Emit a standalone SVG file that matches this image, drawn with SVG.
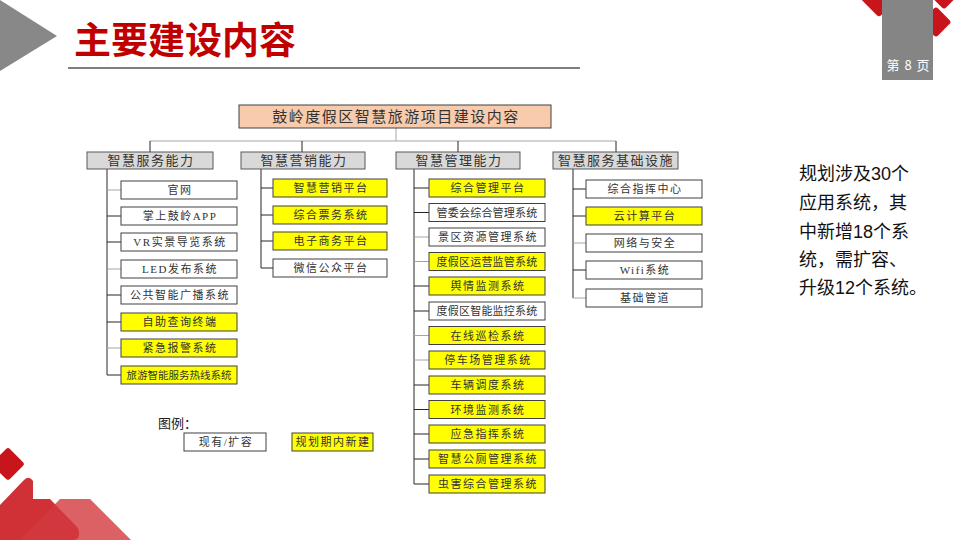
<svg xmlns="http://www.w3.org/2000/svg" width="960" height="540" viewBox="0 0 960 540">
<defs>
<style>
.bx{fill:#ffffff;stroke:#404040;stroke-width:1}
.ny{fill:#ffff00;stroke:#404040;stroke-width:1}
.cat{fill:#d9d9d9;stroke:#595959;stroke-width:1}
.t{font-family:"Liberation Serif","Noto Sans CJK SC",serif;font-size:11px;fill:#333;text-anchor:middle;letter-spacing:1.5px}
.t9{letter-spacing:0.2px}
.t10{font-size:10.5px;letter-spacing:0px}
.ct{font-family:"Liberation Serif","Noto Sans CJK SC",serif;font-size:13px;fill:#333;text-anchor:middle;letter-spacing:1.5px}
.ln{stroke:#262626;stroke-width:1;fill:none}
.lg{stroke:#a6a6a6;stroke-width:1;fill:none}
.rt{font-family:"Liberation Sans","Noto Sans CJK SC",sans-serif;font-size:18px;fill:#111}
</style>
</defs>
<rect width="960" height="540" fill="#ffffff"/>
<!-- header -->
<polygon points="0,0 57,36 0,71" fill="#888888"/>
<text x="74" y="54" font-family="Noto Sans CJK SC,sans-serif" font-size="37" font-weight="bold" fill="#c00000">主要建设内容</text>
<line x1="68" y1="68" x2="580" y2="68" stroke="#7f7f7f" stroke-width="2"/>
<!-- top-right decoration -->
<rect x="866" y="-14" width="26" height="26" rx="3" transform="rotate(45 879 -1)" fill="#c8151b"/>
<rect x="933" y="-17" width="22" height="22" rx="3" transform="rotate(45 944 -6)" fill="#c8151b"/>
<rect x="925" y="11" width="22" height="22" rx="3" transform="rotate(45 936 22)" fill="#c8151b"/>
<rect x="882" y="0" width="51" height="80" fill="#858585"/>
<g font-family="Noto Sans CJK SC,sans-serif" font-size="13" fill="#ffffff" text-anchor="middle">
<text x="893" y="70">第</text><text x="908" y="70">8</text><text x="923" y="70">页</text>
</g>
<!-- bottom-left decoration -->
<rect x="-4" y="452" width="24" height="24" rx="3" transform="rotate(45 8 464)" fill="#c8151b"/>
<path d="M0,505 L24,480 Q29,475 33,481 L33,499 L50,499 L78,528 Q82,540 72,540 L0,540 Z" fill="#c8151b" opacity="0.88"/>
<path d="M60,499 L90,499 L131,540 L20,540 Z" fill="#d2393e" opacity="0.8"/>
<!-- connectors -->
<g id="connectors">
<line class="lg" x1="396" y1="128" x2="396" y2="141"/>
<line class="lg" x1="150" y1="141" x2="616" y2="141"/>
<line class="ln" x1="150" y1="141" x2="150" y2="152"/>
<line class="ln" x1="302" y1="141" x2="302" y2="152"/>
<line class="ln" x1="458" y1="141" x2="458" y2="152"/>
<line class="ln" x1="616" y1="141" x2="616" y2="152"/>
<!-- services -->
<line class="ln" x1="107" y1="169" x2="107" y2="375"/>
<line class="lg" x1="107" y1="190" x2="121" y2="190"/>
<line class="ln" x1="107" y1="216" x2="121" y2="216"/>
<line class="ln" x1="107" y1="242" x2="121" y2="242"/>
<line class="lg" x1="107" y1="269" x2="121" y2="269"/>
<line class="ln" x1="107" y1="295" x2="121" y2="295"/>
<line class="ln" x1="107" y1="322" x2="121" y2="322"/>
<line class="lg" x1="107" y1="348" x2="121" y2="348"/>
<line class="ln" x1="107" y1="375" x2="121" y2="375"/>
<!-- marketing -->
<line class="ln" x1="261" y1="169" x2="261" y2="268"/>
<line class="ln" x1="261" y1="188" x2="273" y2="188"/>
<line class="ln" x1="261" y1="215" x2="273" y2="215"/>
<line class="ln" x1="261" y1="241" x2="273" y2="241"/>
<line class="ln" x1="261" y1="268" x2="273" y2="268"/>
<!-- management -->
<line class="ln" x1="414" y1="169" x2="414" y2="484"/>
<line class="ln" x1="414" y1="188" x2="429" y2="188"/>
<line class="ln" x1="414" y1="212.5" x2="429" y2="212.5"/>
<line class="lg" x1="414" y1="237" x2="429" y2="237"/>
<line class="lg" x1="414" y1="261.5" x2="429" y2="261.5"/>
<line class="ln" x1="414" y1="286" x2="429" y2="286"/>
<line class="ln" x1="414" y1="311" x2="429" y2="311"/>
<line class="lg" x1="414" y1="335.5" x2="429" y2="335.5"/>
<line class="lg" x1="414" y1="360" x2="429" y2="360"/>
<line class="ln" x1="414" y1="385" x2="429" y2="385"/>
<line class="ln" x1="414" y1="409.5" x2="429" y2="409.5"/>
<line class="ln" x1="414" y1="434" x2="429" y2="434"/>
<line class="ln" x1="414" y1="459" x2="429" y2="459"/>
<line class="ln" x1="414" y1="484" x2="429" y2="484"/>
<!-- infra -->
<line class="ln" x1="573" y1="169" x2="573" y2="298"/>
<line class="ln" x1="573" y1="189" x2="586" y2="189"/>
<line class="ln" x1="573" y1="216" x2="586" y2="216"/>
<line class="lg" x1="573" y1="243" x2="586" y2="243"/>
<line class="ln" x1="573" y1="270" x2="586" y2="270"/>
<line class="lg" x1="573" y1="298" x2="586" y2="298"/>
</g>
<!-- root -->
<g id="root">
<rect x="239" y="105" width="312" height="23" fill="#f8cbad" stroke="#404040"/>
<text x="396" y="122" font-family="Liberation Serif,Noto Sans CJK SC,serif" font-size="15" fill="#333" text-anchor="middle" letter-spacing="1.5">鼓岭度假区智慧旅游项目建设内容</text>
</g>
<!-- categories -->
<g id="cat1"><rect class="cat" x="87" y="152" width="126" height="17"/><text class="ct" x="151" y="165">智慧服务能力</text></g>
<g id="cat2"><rect class="cat" x="241" y="152" width="124" height="17"/><text class="ct" x="304" y="165">智慧营销能力</text></g>
<g id="cat3"><rect class="cat" x="396" y="152" width="124" height="17"/><text class="ct" x="459" y="165">智慧管理能力</text></g>
<g id="cat4"><rect class="cat" x="553" y="152" width="125" height="17"/><text class="ct" x="616" y="165" letter-spacing="0.5">智慧服务基础设施</text></g>
<!-- services children -->
<g id="s1"><rect class="bx" x="121" y="181" width="116" height="18"/><text class="t" x="180" y="194">官网</text></g>
<g id="s2"><rect class="bx" x="121" y="207" width="116" height="18"/><text class="t" x="180" y="220">掌上鼓岭APP</text></g>
<g id="s3"><rect class="bx" x="121" y="233" width="116" height="18"/><text class="t" x="180" y="246">VR实景导览系统</text></g>
<g id="s4"><rect class="bx" x="121" y="260" width="116" height="18"/><text class="t" x="180" y="273">LED发布系统</text></g>
<g id="s5"><rect class="bx" x="121" y="286" width="116" height="18"/><text class="t" x="180" y="299">公共智能广播系统</text></g>
<g id="s6"><rect class="ny" x="121" y="313" width="116" height="18"/><text class="t" x="180" y="326">自助查询终端</text></g>
<g id="s7"><rect class="ny" x="121" y="339" width="116" height="18"/><text class="t" x="180" y="352">紧急报警系统</text></g>
<g id="s8"><rect class="ny" x="121" y="366" width="116" height="18"/><text class="t t10" x="179" y="379">旅游智能服务热线系统</text></g>
<!-- marketing children -->
<g id="m1"><rect class="ny" x="273" y="179" width="114" height="18"/><text class="t" x="331" y="192">智慧营销平台</text></g>
<g id="m2"><rect class="ny" x="273" y="206" width="114" height="18"/><text class="t" x="331" y="219">综合票务系统</text></g>
<g id="m3"><rect class="ny" x="273" y="232" width="114" height="18"/><text class="t" x="331" y="245">电子商务平台</text></g>
<g id="m4"><rect class="bx" x="273" y="259" width="114" height="18"/><text class="t" x="331" y="272">微信公众平台</text></g>
<!-- management children -->
<g id="g1"><rect class="ny" x="429" y="179" width="116" height="18"/><text class="t" x="488" y="192">综合管理平台</text></g>
<g id="g2"><rect class="bx" x="429" y="203.5" width="116" height="18"/><text class="t t9" x="487" y="216.5">管委会综合管理系统</text></g>
<g id="g3"><rect class="bx" x="429" y="228" width="116" height="18"/><text class="t" x="488" y="241">景区资源管理系统</text></g>
<g id="g4"><rect class="ny" x="429" y="252.5" width="116" height="18"/><text class="t t9" x="487" y="265.5">度假区运营监管系统</text></g>
<g id="g5"><rect class="ny" x="429" y="277" width="116" height="18"/><text class="t" x="488" y="290">舆情监测系统</text></g>
<g id="g6"><rect class="bx" x="429" y="302" width="116" height="18"/><text class="t t9" x="487" y="315">度假区智能监控系统</text></g>
<g id="g7"><rect class="ny" x="429" y="326.5" width="116" height="18"/><text class="t" x="488" y="339.5">在线巡检系统</text></g>
<g id="g8"><rect class="ny" x="429" y="351" width="116" height="18"/><text class="t" x="488" y="364">停车场管理系统</text></g>
<g id="g9"><rect class="ny" x="429" y="376" width="116" height="18"/><text class="t" x="488" y="389">车辆调度系统</text></g>
<g id="g10"><rect class="ny" x="429" y="400.5" width="116" height="18"/><text class="t" x="488" y="413.5">环境监测系统</text></g>
<g id="g11"><rect class="ny" x="429" y="425" width="116" height="18"/><text class="t" x="488" y="438">应急指挥系统</text></g>
<g id="g12"><rect class="ny" x="429" y="450" width="116" height="18"/><text class="t" x="488" y="463">智慧公厕管理系统</text></g>
<g id="g13"><rect class="ny" x="429" y="475" width="116" height="18"/><text class="t" x="488" y="488">虫害综合管理系统</text></g>
<!-- infra children -->
<g id="i1"><rect class="bx" x="586" y="180" width="116" height="18"/><text class="t" x="645" y="193">综合指挥中心</text></g>
<g id="i2"><rect class="ny" x="586" y="207" width="116" height="18"/><text class="t" x="645" y="220">云计算平台</text></g>
<g id="i3"><rect class="bx" x="586" y="234" width="116" height="18"/><text class="t" x="645" y="247">网络与安全</text></g>
<g id="i4"><rect class="bx" x="586" y="261" width="116" height="18"/><text class="t" x="645" y="274">Wifi系统</text></g>
<g id="i5"><rect class="bx" x="586" y="289" width="116" height="18"/><text class="t" x="645" y="302">基础管道</text></g>
<!-- legend -->
<g id="legend">
<text x="158" y="428" font-family="Liberation Serif,Noto Sans CJK SC,serif" font-size="13" fill="#222">图例：</text>
<rect class="bx" x="184" y="433" width="82" height="18"/><text class="t" x="226" y="446">现有/扩容</text>
<rect class="ny" x="292" y="433" width="81" height="18"/><text class="t" x="333" y="446" letter-spacing="0.5">规划期内新建</text>
</g>
<!-- right note -->
<g id="note">
<text class="rt" x="799" y="180">规划涉及30个</text>
<text class="rt" x="799" y="209">应用系统，其</text>
<text class="rt" x="799" y="238">中新增18个系</text>
<text class="rt" x="799" y="266">统，需扩容、</text>
<text class="rt" x="799" y="294">升级12个系统。</text>
</g>
</svg>
